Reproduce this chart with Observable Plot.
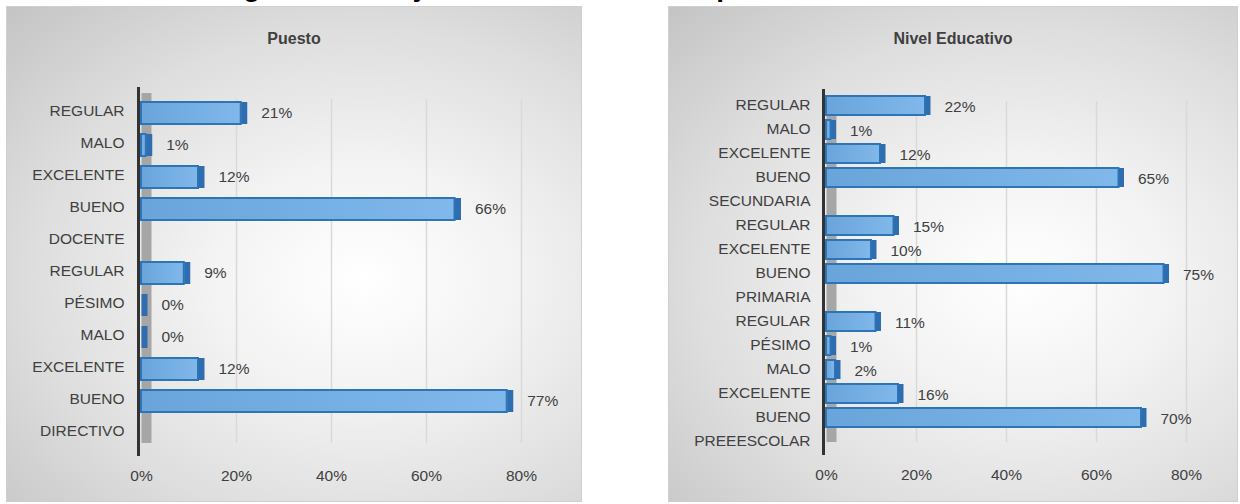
<!DOCTYPE html>
<html><head><meta charset="utf-8">
<script src="https://cdn.jsdelivr.net/npm/d3@7"></script>
<script src="https://cdn.jsdelivr.net/npm/@observablehq/plot@0.6"></script>
<style>
body{margin:0;background:#fff;font-family:"Liberation Sans",Arial,sans-serif;}
#page{position:relative;width:1240px;height:504px;overflow:hidden;background:#fff;}
.panel{position:absolute;top:6px;height:496px;border:1px solid #cfcfcf;box-sizing:border-box;
  background:radial-gradient(ellipse farthest-corner at 62% 55%, #ffffff 0%, #f3f3f3 30%, #dedede 65%, #c4c4c4 100%);}
.ptitle{position:absolute;top:23px;left:0;width:100%;text-align:center;font-weight:bold;font-size:16px;line-height:18px;color:#404040;}
.chart{position:absolute;top:0;}
#title{position:absolute;top:-27px;left:0;width:1210px;text-align:center;font-weight:bold;font-size:28px;line-height:28px;color:#000;z-index:5;white-space:nowrap;}
</style></head>
<body>
<div id="page">
  <div class="panel" style="left:6px;width:576px;"><div class="ptitle">Puesto</div></div>
  <div class="panel" style="left:668px;width:570px;"><div class="ptitle">Nivel Educativo</div></div>
  <div id="left" class="chart" style="left:0px;"></div>
  <div id="right" class="chart" style="left:620px;"></div>
  <div id="title">Figura 5. Manejo de conflictos en los planteles educativos</div>
</div>
<script>
const puestoLabels = ["REGULAR","MALO","EXCELENTE","BUENO","DOCENTE","REGULAR","PÉSIMO","MALO","EXCELENTE","BUENO","DIRECTIVO"];
const puestoValues = [21,1,12,66,null,9,0,0,12,77,null];
const nivelLabels = ["REGULAR","MALO","EXCELENTE","BUENO","SECUNDARIA","REGULAR","EXCELENTE","BUENO","PRIMARIA","REGULAR","PÉSIMO","MALO","EXCELENTE","BUENO","PREEESCOLAR"];
const nivelValues = [22,1,12,65,null,15,10,75,null,11,1,2,16,70,null];
const xTicks = [0,20,40,60,80];

function chart(labels, values, o) {
  const rows = labels.map((l,i)=>({key:String(i), label:l, value:values[i]}));
  const bars = rows.filter(d=>d.value!=null);
  const svg = Plot.plot({
    width:o.width, height:504,
    marginLeft:o.ml, marginRight:o.mr, marginTop:o.mt, marginBottom:o.mb,
    style:{background:"transparent", fontFamily:'"Liberation Sans",Arial,sans-serif', fontSize:"15.5px", color:"#404040", overflow:"visible"},
    x:{domain:[0,80], ticks:xTicks, tickFormat:d=>d+"%", tickSize:0, tickPadding:13, label:null},
    y:{domain:rows.map(d=>d.key), padding:o.pad, tickSize:0, tickPadding:o.yPad, tickFormat:k=>labels[+k], label:null},
    marks:[
      Plot.ruleX(xTicks.filter(t=>t>0), {stroke:"#d9d9d9", strokeWidth:1.5, insetTop:12, insetBottom:13}),
      Plot.ruleX([0], {stroke:"#a6a6a6", strokeWidth:10, dx:5, insetTop:6, insetBottom:13}),
      Plot.ruleX([0], {stroke:"#333333", strokeWidth:3, dx:-3}),
      Plot.barX(bars, {x1:0, x2:"value", y:"key", fill:`url(#${o.id})`, stroke:"#2e75b6", strokeWidth:2, dy:o.bdy}),
      Plot.tickX(bars, {x:"value", y:"key", stroke:"#2e6db0", strokeWidth:o.side, dx:o.side/2, dy:o.bdy}),
      Plot.text(bars, {x:"value", y:"key", text:d=>d.value+"%", dx:o.dx, dy:2, textAnchor:"start", fill:"#404040"})
    ]
  });
  d3.select(svg).insert("defs", ":first-child").html(
    `<linearGradient id="${o.id}" x1="0" x2="1" y1="0" y2="0">
       <stop offset="0" stop-color="#6aa4da"/><stop offset="1" stop-color="#80b8eb"/>
     </linearGradient>`);
  return svg;
}

document.getElementById("left").append(chart(puestoLabels, puestoValues,
  {id:"gL", width:590, ml:141, mr:69, mt:87, mb:48, pad:0.3, yPad:17, side:6, dx:20, bdy:2}));
document.getElementById("right").append(chart(nivelLabels, nivelValues,
  {id:"gR", width:620, ml:206, mr:54, mt:89, mb:49, pad:0.22, yPad:16, side:5, dx:19, bdy:1}));
</script>
</body></html>
